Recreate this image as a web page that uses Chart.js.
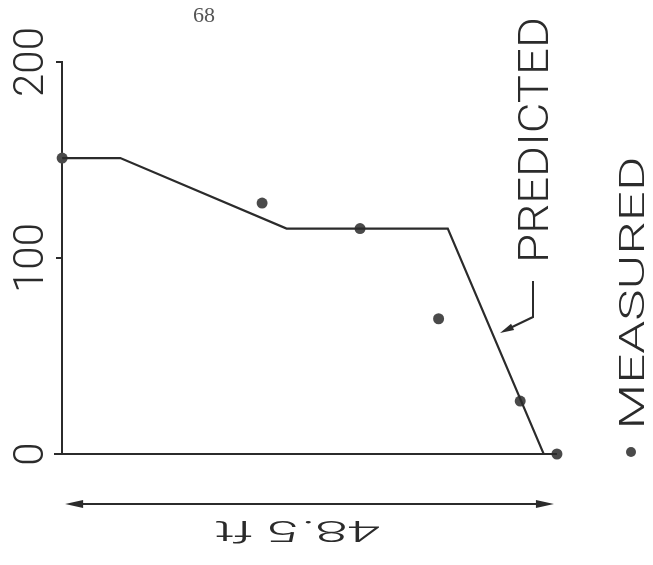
<!DOCTYPE html>
<html>
<head>
<meta charset="utf-8">
<script src="https://cdn.jsdelivr.net/npm/chart.js@4.4.1/dist/chart.umd.min.js"></script>
<style>
  body { margin: 0; background: #fff; }
  #wrap { width: 653px; height: 565px; }
</style>
</head>
<body>
<div id="wrap"><canvas id="chart" width="653" height="565"></canvas></div>
<script>
// distance along span (ft) and value for the predicted curve
const predX = [0, 5.7, 22.0, 37.8, 47.2, 48.5];
const predY = [151, 151, 115, 115, 0, 0];
// measured points
const measX = [0, 19.6, 29.2, 36.9, 44.9, 48.5];
const measY = [151, 128, 115, 69, 27, 0];
const yTicks = [0, 100, 200];
const spanFt = 48.5;
const spanLabel = '48.5 ft';

const ink = '#2b2b2b';
const lightFont = (size) => '300 ' + size + 'px Roboto, "DejaVu Sans", sans-serif';

function toPoints(xs, ys) {
    return xs.map((x, i) => ({ x: x, y: ys[i] }));
}

// text centred on (cx, cy), rotated, optionally stretched to a length
function drawLabel(ctx, text, cx, cy, angle, font, len) {
    ctx.save();
    ctx.translate(cx, cy);
    ctx.rotate(angle);
    ctx.font = font;
    const m = ctx.measureText(text);
    if (len) ctx.scale(len / m.width, 1);
    ctx.textAlign = 'center';
    ctx.textBaseline = 'alphabetic';
    ctx.fillText(text, 0, (m.actualBoundingBoxAscent - m.actualBoundingBoxDescent) / 2);
    ctx.restore();
}

function arrowHead(ctx, x, y, fromX, fromY, len, half) {
    const a = Math.atan2(y - fromY, x - fromX);
    ctx.save();
    ctx.translate(x, y);
    ctx.rotate(a);
    ctx.beginPath();
    ctx.moveTo(0, 0);
    ctx.lineTo(-len, -half);
    ctx.lineTo(-len, half);
    ctx.closePath();
    ctx.fill();
    ctx.restore();
}

const annotations = {
    id: 'annotations',
    afterDraw(chart) {
        const ctx = chart.ctx;
        const xs = chart.scales.x;
        const ys = chart.scales.y;
        ctx.save();
        ctx.fillStyle = ink;
        ctx.strokeStyle = ink;

        // page number
        ctx.fillStyle = '#555';
        drawLabel(ctx, '68', 204, 15, 0, '22px "Liberation Serif", serif');
        ctx.fillStyle = ink;

        // y tick labels, rotated
        yTicks.forEach(v => {
            drawLabel(ctx, String(v), 28, ys.getPixelForValue(v), -Math.PI / 2, lightFont(42));
        });

        // series labels
        drawLabel(ctx, 'PREDICTED', 533, 140, -Math.PI / 2, lightFont(42), 246);
        drawLabel(ctx, 'MEASURED', 631, 293, -Math.PI / 2, lightFont(35), 273);
        ctx.fillStyle = '#4a4a4a';
        ctx.beginPath();
        ctx.arc(631, 452, 5, 0, Math.PI * 2);
        ctx.fill();
        ctx.fillStyle = ink;

        // leader to predicted line
        ctx.lineWidth = 2;
        ctx.beginPath();
        ctx.moveTo(533, 281);
        ctx.lineTo(533, 317);
        ctx.lineTo(508, 329);
        ctx.stroke();
        arrowHead(ctx, 500, 333, 533, 317, 14, 3.5);

        // span dimension arrow
        const x0 = xs.getPixelForValue(0) + 3;
        const x1 = xs.getPixelForValue(spanFt) - 3;
        const ay = 504;
        ctx.beginPath();
        ctx.moveTo(x0 + 10, ay);
        ctx.lineTo(x1 - 10, ay);
        ctx.stroke();
        arrowHead(ctx, x0, ay, x0 + 20, ay, 18, 4);
        arrowHead(ctx, x1, ay, x1 - 20, ay, 18, 4);

        drawLabel(ctx, spanLabel, (x0 + x1) / 2 - 12, 532, Math.PI, lightFont(30), 167);
        ctx.restore();
    }
};

new Chart(document.getElementById('chart'), {
    type: 'scatter',
    data: {
        datasets: [{
            label: 'PREDICTED',
            data: toPoints(predX, predY),
            showLine: true,
            borderColor: ink,
            borderWidth: 2.2,
            pointRadius: 0,
            clip: false
        }, {
            label: 'MEASURED',
            data: toPoints(measX, measY),
            showLine: false,
            pointRadius: 5.5,
            backgroundColor: '#4a4a4a',
            borderWidth: 0,
            clip: false
        }]
    },
    options: {
        responsive: false,
        animation: false,
        layout: { padding: { left: 55, top: 62, right: 93, bottom: 103 } },
        plugins: { legend: { display: false }, tooltip: { enabled: false } },
        scales: {
            x: {
                type: 'linear',
                min: -0.7,
                max: 48.8,
                grid: { display: false },
                ticks: { display: false },
                border: { color: ink, width: 2 }
            },
            y: {
                type: 'linear',
                min: 0,
                max: 200,
                position: { x: 0 },
                ticks: { display: false, stepSize: 100 },
                grid: { drawOnChartArea: false, tickLength: 5, color: ink, lineWidth: 2 },
                border: { color: ink, width: 2 }
            }
        }
    },
    plugins: [annotations]
});
</script>
</body>
</html>
